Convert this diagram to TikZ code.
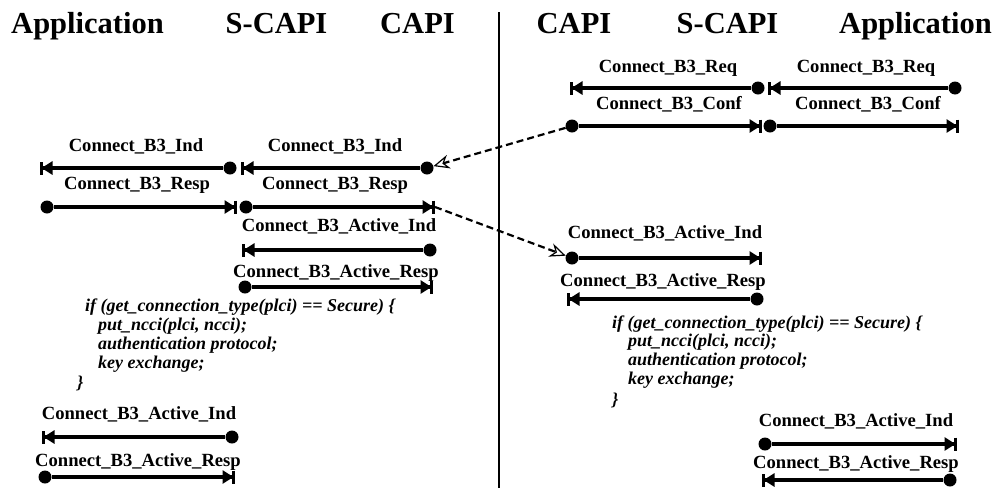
\documentclass[tikz,border=0pt]{standalone}
\usepackage{fontspec}
\setmainfont{Liberation Serif}
\usetikzlibrary{arrows.meta}
\begin{document}
\begin{tikzpicture}[x=1pt,y=-1pt,
  head/.style={font=\fontsize{30.5}{36}\selectfont\bfseries, anchor=base, inner sep=0pt},
  lbl/.style={font=\fontsize{18.6}{22}\selectfont\bfseries, anchor=base, inner sep=0pt},
  codeline/.style={font=\fontsize{18}{22}\selectfont\bfseries\itshape, anchor=base west, inner sep=0pt},
  dotnode/.style={circle, fill, minimum size=13pt, inner sep=0pt},
  msg/.style={line width=3.2pt, -{Triangle[length=11pt,width=13pt,sep=-1.5pt]Bar[width=13pt,line width=3pt]}},
  ptr/.style={line width=2.2pt, dash pattern=on 7pt off 4pt, -{Stealth[open,length=16pt,width=14pt,line width=1.2pt]}}
]
\useasboundingbox (0,0) rectangle (997,488);

% headers
\node[head] (hA1) at (87.5,33) {Application};
\node[head] (hS1) at (276.5,33) {S-CAPI};
\node[head] (hC1) at (417.5,33) {CAPI};
\node[head] (hC2) at (574,33) {CAPI};
\node[head] (hS2) at (727.5,33) {S-CAPI};
\node[head] (hA2) at (915.5,33) {Application};

% divider
\coordinate (divT) at (499,12);
\coordinate (divB) at (499,488);
\draw[line width=1.8pt] (divT) -- (divB);

% ---------- left side ----------
\node[lbl] (tL1a) at (136,151) {Connect\_B3\_Ind};
\node[dotnode] (dL1a) at (230,168) {};
\coordinate (eL1a) at (40,168);
\draw[msg] (dL1a) -- (eL1a);

\node[lbl] (tL1b) at (335,151) {Connect\_B3\_Ind};
\node[dotnode] (dL1b) at (427,168) {};
\coordinate (eL1b) at (241,168);
\draw[msg] (dL1b) -- (eL1b);

\node[lbl] (tL2a) at (137,189) {Connect\_B3\_Resp};
\node[dotnode] (dL2a) at (47,207) {};
\coordinate (eL2a) at (237,207);
\draw[msg] (dL2a) -- (eL2a);

\node[lbl] (tL2b) at (335,189) {Connect\_B3\_Resp};
\node[dotnode] (dL2b) at (246,207) {};
\coordinate (eL2b) at (435,207);
\draw[msg] (dL2b) -- (eL2b);

\node[lbl] (tL3) at (339,231) {Connect\_B3\_Active\_Ind};
\node[dotnode] (dL3) at (430,250) {};
\coordinate (eL3) at (242,250);
\draw[msg] (dL3) -- (eL3);

\node[lbl] (tL4) at (336,277) {Connect\_B3\_Active\_Resp};
\node[dotnode] (dL4) at (245,287) {};
\coordinate (eL4) at (433,287);
\draw[msg] (dL4) -- (eL4);

\node[codeline] (cL1) at (85,311) {if (get\_connection\_type(plci) == Secure) \{};
\node[codeline] (cL2) at (98,330) {put\_ncci(plci, ncci);};
\node[codeline] (cL3) at (98,349) {authentication protocol;};
\node[codeline] (cL4) at (98,368) {key exchange;};
\node[codeline] (cL5) at (77,388) {\}};

\node[lbl] (tL5) at (139,419) {Connect\_B3\_Active\_Ind};
\node[dotnode] (dL5) at (232,437) {};
\coordinate (eL5) at (42,437);
\draw[msg] (dL5) -- (eL5);

\node[lbl] (tL6) at (138,466) {Connect\_B3\_Active\_Resp};
\node[dotnode] (dL6) at (45,477) {};
\coordinate (eL6) at (235,477);
\draw[msg] (dL6) -- (eL6);

% ---------- right side ----------
\node[lbl] (tR1a) at (668,72) {Connect\_B3\_Req};
\node[dotnode] (dR1a) at (758,88) {};
\coordinate (eR1a) at (570,88);
\draw[msg] (dR1a) -- (eR1a);

\node[lbl] (tR1b) at (866,72) {Connect\_B3\_Req};
\node[dotnode] (dR1b) at (955,88) {};
\coordinate (eR1b) at (768,88);
\draw[msg] (dR1b) -- (eR1b);

\node[lbl] (tR2a) at (669,109) {Connect\_B3\_Conf};
\node[dotnode] (dR2a) at (572,126) {};
\coordinate (eR2a) at (762,126);
\draw[msg] (dR2a) -- (eR2a);

\node[lbl] (tR2b) at (868,109) {Connect\_B3\_Conf};
\node[dotnode] (dR2b) at (770,126) {};
\coordinate (eR2b) at (959,126);
\draw[msg] (dR2b) -- (eR2b);

\node[lbl] (tR3) at (665,238) {Connect\_B3\_Active\_Ind};
\node[dotnode] (dR3) at (572,258) {};
\coordinate (eR3) at (762,258);
\draw[msg] (dR3) -- (eR3);

\node[lbl] (tR4) at (663,286) {Connect\_B3\_Active\_Resp};
\node[dotnode] (dR4) at (757,299) {};
\coordinate (eR4) at (567,299);
\draw[msg] (dR4) -- (eR4);

\node[codeline] (cR1) at (612,328) {if (get\_connection\_type(plci) == Secure) \{};
\node[codeline] (cR2) at (628,346) {put\_ncci(plci, ncci);};
\node[codeline] (cR3) at (628,365) {authentication protocol;};
\node[codeline] (cR4) at (628,384) {key exchange;};
\node[codeline] (cR5) at (612,405) {\}};

\node[lbl] (tR5) at (856,426) {Connect\_B3\_Active\_Ind};
\node[dotnode] (dR5) at (765,444) {};
\coordinate (eR5) at (957,444);
\draw[msg] (dR5) -- (eR5);

\node[lbl] (tR6) at (856,468) {Connect\_B3\_Active\_Resp};
\node[dotnode] (dR6) at (950,480) {};
\coordinate (eR6) at (762,480);
\draw[msg] (dR6) -- (eR6);

% ---------- cross-side pointers ----------
\draw[ptr] (dR2a) -- (dL1b);
\draw[ptr] (eL2b) -- (dR3);
\end{tikzpicture}
\end{document}
